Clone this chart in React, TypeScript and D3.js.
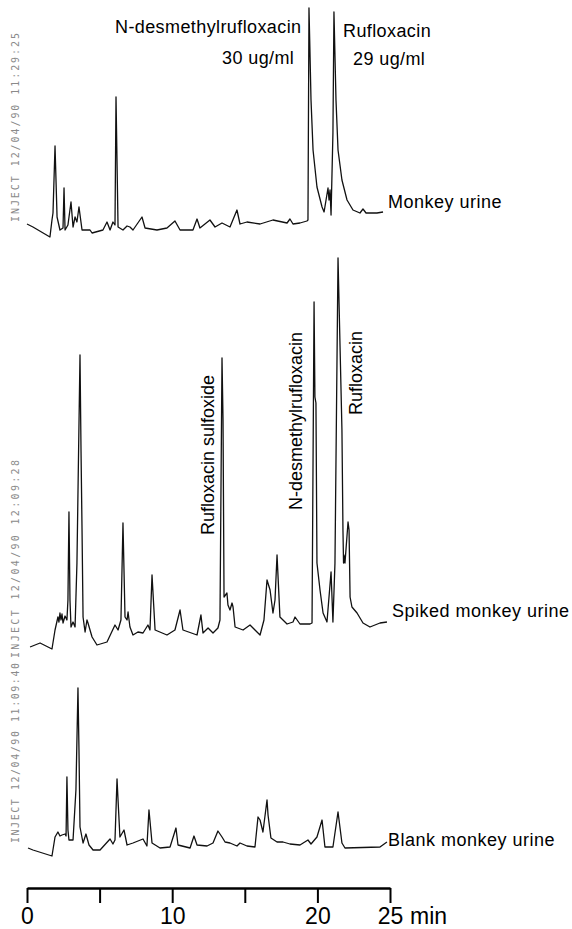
import React, { useEffect, useRef } from "react";
import * as d3 from "d3";

// retention time (min) / detector response (arbitrary units)
const monkeyTimes = [0, 0.41, 1.58, 1.72, 1.79, 1.93, 2.07, 2.27, 2.48, 2.55, 2.62, 2.82, 3.03, 3.17, 3.31, 3.44, 3.58, 3.79, 4.34, 4.48, 5.23, 5.51, 5.72, 5.92, 6.06, 6.13, 6.27, 6.61, 6.89, 7.09, 7.3, 7.92, 8.13, 8.95, 9.64, 10.19, 10.54, 11.43, 11.71, 11.91, 12.6, 12.95, 13.43, 13.98, 14.46, 14.67, 15.15, 16.05, 16.94, 17.91, 18.11, 18.32, 18.8, 19.28, 19.35, 19.42, 19.47, 19.56, 19.7, 19.97, 20.32, 20.46, 20.73, 20.8, 20.87, 20.94, 21.07, 21.14, 21.28, 21.42, 21.69, 22.04, 22.45, 22.93, 23.14, 23.35, 24.1, 24.52];
const monkeyResp = [8, 6.5, 1.5, 10, 13.5, 47, 11.5, 5, 6, 26, 5, 7.5, 19, 6.5, 11.5, 9, 16.5, 5, 5, 3.5, 5, 9, 5, 9, 7.5, 71.5, 6.5, 5, 7, 6.5, 5, 11.5, 6, 5, 6, 9.5, 5, 5, 10.5, 6, 10, 6.5, 8.5, 6.5, 15, 8, 9, 8, 10, 8.5, 10.5, 8, 8.5, 9.5, 10, 116, 100, 70, 45, 26.5, 16.5, 14, 26, 20, 25, 12.5, 53.5, 114, 70, 45, 30, 20, 15, 13.5, 15.5, 13.5, 13.5, 14];

const spikedTimes = [0.21, 0.9, 1.72, 1.93, 2.13, 2.2, 2.27, 2.34, 2.41, 2.48, 2.62, 2.75, 2.82, 2.89, 2.96, 3.03, 3.17, 3.31, 3.44, 3.65, 3.72, 3.79, 3.86, 4.0, 4.13, 4.2, 4.48, 4.82, 5.51, 6.06, 6.27, 6.47, 6.61, 6.75, 6.89, 6.96, 7.09, 7.3, 7.64, 7.99, 8.33, 8.47, 8.61, 8.82, 9.64, 10.19, 10.54, 10.74, 11.71, 11.98, 12.12, 12.47, 12.81, 13.15, 13.29, 13.43, 13.5, 13.57, 13.77, 13.84, 13.98, 14.12, 14.19, 14.33, 14.88, 15.36, 16.05, 16.32, 16.53, 16.74, 16.94, 17.08, 17.22, 17.42, 17.91, 18.32, 18.46, 18.8, 19.49, 19.63, 19.77, 19.83, 19.9, 19.97, 20.18, 20.39, 20.66, 20.94, 21.07, 21.21, 21.42, 21.69, 21.76, 21.8, 21.83, 21.9, 22.11, 22.18, 22.25, 22.38, 22.73, 23.14, 23.62, 24.31, 24.79];
const spikedResp = [6.5, 8.5, 5.5, 15, 21.5, 19, 23.5, 20, 23, 18.5, 22, 20, 30, 74, 30, 16.5, 19, 16.5, 48.5, 152.5, 105, 65, 21.5, 14, 20, 18.5, 11.5, 7.5, 9, 17.5, 15, 20, 68.5, 21.5, 20, 24, 16.5, 12.5, 14, 13.5, 17.5, 15, 42.5, 15, 12.5, 15, 25, 15, 12.5, 22.5, 13.5, 16, 13.5, 16, 20, 151, 120, 31.5, 33.5, 27.5, 25, 28.5, 26.5, 16.5, 15, 17.5, 12.5, 20, 40, 35, 23.5, 30, 52.5, 21.5, 18, 19, 21.5, 18, 18, 18.5, 179, 131.5, 128.5, 48.5, 35, 23.5, 19, 44, 19, 48.5, 201, 115, 65, 48.5, 52.5, 48.5, 69, 65, 31.5, 26.5, 23.5, 18.5, 16.5, 18.5, 19];

const blankTimes = [0.07, 0.41, 1.72, 1.93, 2.13, 2.27, 2.41, 2.62, 2.69, 2.75, 2.82, 2.89, 3.17, 3.37, 3.51, 3.58, 3.65, 3.86, 4.06, 4.27, 4.55, 5.03, 5.72, 5.92, 6.06, 6.2, 6.27, 6.4, 6.68, 6.89, 7.3, 7.99, 8.26, 8.4, 8.61, 9.16, 9.85, 10.26, 10.4, 11.23, 11.5, 11.71, 12.4, 12.81, 13.15, 13.43, 13.64, 13.98, 14.46, 14.67, 15.15, 15.7, 15.91, 16.05, 16.25, 16.53, 16.6, 16.8, 17.22, 17.63, 18.11, 18.8, 19.35, 19.56, 19.97, 20.32, 20.52, 21.07, 21.42, 21.69, 21.9, 24.31, 24.79];
const blankResp = [11, 10, 7, 16.5, 19, 17, 17.5, 18, 17, 46.5, 20, 15, 15, 40, 91, 60, 21.5, 13.5, 18, 12.5, 10, 10, 15.5, 13, 15, 45.5, 35, 16.5, 20, 12.5, 13.5, 15.5, 12, 30, 13.5, 11, 11.5, 21, 12.5, 11, 17, 12.5, 12, 13.5, 19.5, 16.5, 14, 13.5, 12, 13.5, 12, 11.5, 26.5, 25, 19, 35, 27.5, 16, 14, 14, 13, 12.5, 15, 13, 16.5, 25, 11.5, 11.5, 29, 13.5, 11, 11.5, 14];

const traceNames = ["Monkey urine", "Spiked monkey urine", "Blank monkey urine"];
const injectStamps = ["INJECT   12/04/90  11:29:25", "INJECT   12/04/90  12:09:28", "INJECT   12/04/90  11:09:40"];
const axisTicks = [0, 5, 10, 15, 20, 25];
const tickLabels = ["0", "", "10", "", "20", "25"];

const width = 572;
const height = 929;
const font = "'Liberation Sans', Arial, Helvetica, sans-serif";

const App = () => {
    const svgRef = useRef(null);

    useEffect(() => {
        const svg = d3.select(svgRef.current);
        svg.selectAll("*").remove();

        const x = d3.scaleLinear().domain([0, 25]).range([27, 390]);

        // each chromatogram sits on its own baseline, 2px per response unit
        const traces = [
            { t: monkeyTimes, r: monkeyResp, base: 240, label: [388, 208], stamp: [222, 189] },
            { t: spikedTimes, r: spikedResp, base: 660, label: [392, 617], stamp: [658, 198] },
            { t: blankTimes, r: blankResp, base: 870, label: [388, 846], stamp: [843, 180] },
        ];

        traces.forEach((tr, k) => {
            const y = d3.scaleLinear().domain([0, 100]).range([tr.base, tr.base - 200]);
            const line = d3.line<number>()
                .x((d, i) => x(tr.t[i]))
                .y(d => y(d));
            svg.append("path")
                .datum(tr.r)
                .attr("d", line)
                .attr("fill", "none")
                .attr("stroke", "#111")
                .attr("stroke-width", 1.3)
                .attr("stroke-linejoin", "round");

            svg.append("text")
                .attr("x", tr.label[0])
                .attr("y", tr.label[1])
                .attr("font-family", font)
                .attr("font-size", 18)
                .attr("letter-spacing", 0.5)
                .text(traceNames[k]);

            svg.append("text")
                .attr("transform", `translate(19, ${tr.stamp[0]}) rotate(-90)`)
                .attr("font-family", "'DejaVu Sans Mono', monospace")
                .attr("font-size", 10)
                .attr("fill", "#8a8a8a")
                .attr("textLength", tr.stamp[1])
                .attr("lengthAdjust", "spacing")
                .text(injectStamps[k]);
        });

        // peak annotations
        const ann = svg.append("g").attr("font-family", font).attr("font-size", 18).attr("fill", "#000");
        ann.append("text").attr("x", 115).attr("y", 33).attr("letter-spacing", 0.4).text("N-desmethylrufloxacin");
        ann.append("text").attr("x", 222).attr("y", 64).attr("letter-spacing", 0.4).text("30 ug/ml");
        ann.append("text").attr("x", 343).attr("y", 37).attr("letter-spacing", 0.4).text("Rufloxacin");
        ann.append("text").attr("x", 353).attr("y", 65).attr("letter-spacing", 0.4).text("29 ug/ml");
        ann.append("text").attr("transform", "translate(214, 535) rotate(-90)").text("Rufloxacin sulfoxide");
        ann.append("text").attr("transform", "translate(302, 510) rotate(-90)").text("N-desmethylrufloxacin");
        ann.append("text").attr("transform", "translate(362, 415) rotate(-90)").text("Rufloxacin");

        // time axis
        const axis = d3.axisBottom(x)
            .tickValues(axisTicks)
            .tickSize(15)
            .tickSizeOuter(0)
            .tickPadding(5)
            .tickFormat((d, i) => tickLabels[i]);
        const g = svg.append("g").attr("transform", "translate(0, 888)").call(axis);
        g.select(".domain").attr("stroke", "#000").attr("stroke-width", 2.5);
        g.selectAll(".tick line").attr("stroke", "#000").attr("stroke-width", 2);
        g.selectAll(".tick text")
            .attr("font-family", font)
            .attr("font-size", 23)
            .attr("fill", "#000");
        g.append("text")
            .attr("x", 410)
            .attr("y", 20)
            .attr("dy", "0.71em")
            .attr("text-anchor", "start")
            .attr("font-family", font)
            .attr("font-size", 23)
            .attr("fill", "#000")
            .text("min");
    }, []);

    return (
        <svg ref={svgRef} width={width} height={height}
             style={{ position: "absolute", left: 0, top: 0, background: "#fff" }}>
        </svg>
    );
};

export default App;
